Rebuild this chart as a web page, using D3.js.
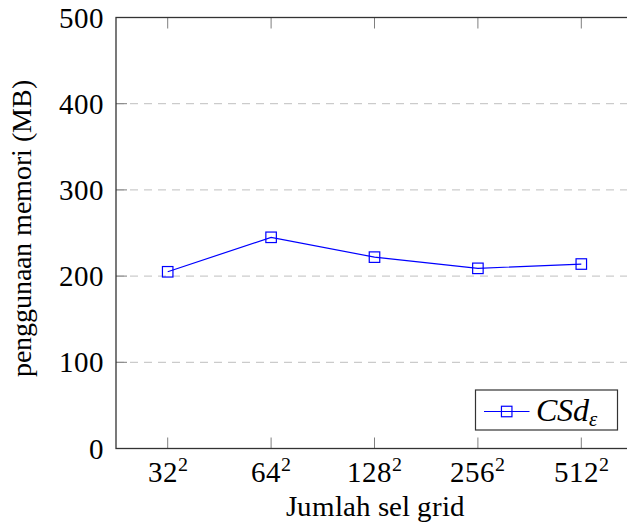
<!DOCTYPE html>
<html>
<head>
<meta charset="utf-8">
<script src="https://cdn.jsdelivr.net/npm/d3@7"></script>
<style>
  @font-face { font-family: "ChartSerif"; font-style: normal; src: local("Liberation Serif"), local("LiberationSerif"), local("Liberation Serif Regular"), local("LiberationSerif-Regular"); }
  @font-face { font-family: "ChartSerif"; font-style: italic; src: local("Liberation Serif Italic"), local("LiberationSerif-Italic"); }
</style>
</head>
<body style="margin:0;background:#fff">
<svg id="chart" width="627" height="526" style="display:block"></svg>
<script>
// Grid sizes (base of the squared label) and memory use in MB
const gridBases = ["32", "64", "128", "256", "512"];
const memoryMB = [205, 245, 222, 209, 214];
const yTicks = [0, 100, 200, 300, 400, 500];
const seriesName = { main: "CSd", sub: "ε" };

const serif = "ChartSerif, \"Liberation Serif\", \"Times New Roman\", serif";
const fs = 29;

const svg = d3.select("#chart");
const plot = { left: 116, right: 633, top: 17.5, bottom: 448.5 };

const x = d3.scalePoint()
  .domain(gridBases)
  .range([plot.left, plot.right])
  .padding(0.5);

const y = d3.scaleLinear()
  .domain([0, 500])
  .range([plot.bottom, plot.top]);

const tickLen = 11;

// Dashed horizontal grid
svg.append("g")
  .selectAll("line")
  .data(yTicks.filter(d => d > 0 && d < 500))
  .join("line")
  .attr("x1", plot.left).attr("x2", plot.right)
  .attr("y1", d => y(d)).attr("y2", d => y(d))
  .attr("stroke", "#bfbfbf")
  .attr("stroke-width", 1)
  .attr("stroke-dasharray", "8,6");

// Inward tick marks on left, bottom and top
const ticks = svg.append("g").attr("stroke", "#7f7f7f").attr("stroke-width", 1);
ticks.selectAll(".yt").data(yTicks).join("line")
  .attr("x1", plot.left).attr("x2", plot.left + tickLen)
  .attr("y1", d => y(d)).attr("y2", d => y(d));
ticks.selectAll(".xb").data(gridBases).join("line")
  .attr("x1", d => x(d)).attr("x2", d => x(d))
  .attr("y1", plot.bottom).attr("y2", plot.bottom - tickLen);
ticks.selectAll(".xt").data(gridBases).join("line")
  .attr("x1", d => x(d)).attr("x2", d => x(d))
  .attr("y1", plot.top).attr("y2", plot.top + tickLen);

// Frame
svg.append("rect")
  .attr("x", plot.left).attr("y", plot.top)
  .attr("width", plot.right - plot.left).attr("height", plot.bottom - plot.top)
  .attr("fill", "none").attr("stroke", "#333").attr("stroke-width", 1.3);

// Y tick labels
svg.selectAll(".ylab").data(yTicks).join("text")
  .attr("x", plot.left - 12)
  .attr("y", d => y(d))
  .attr("dy", "0.35em")
  .attr("text-anchor", "end")
  .attr("font-family", serif)
  .attr("font-size", fs)
  .style("font-family", serif)
  .text(d => d);

// X tick labels with superscript 2
const xl = svg.selectAll(".xlab").data(gridBases).join("text")
  .attr("x", d => x(d))
  .attr("y", 482)
  .attr("text-anchor", "middle")
  .attr("font-family", serif)
  .attr("font-size", fs)
  .style("font-family", serif);
xl.append("tspan").text(d => d);
xl.append("tspan").attr("font-size", 20).attr("dy", -11).text("2");

// Axis titles
svg.append("text")
  .attr("x", 375)
  .attr("y", 516)
  .attr("text-anchor", "middle")
  .attr("font-family", serif)
  .attr("font-size", fs)
  .style("font-family", serif)
  .text("Jumlah sel grid");

svg.append("text")
  .attr("transform", "translate(31,228) rotate(-90)")
  .attr("text-anchor", "middle")
  .attr("font-family", serif)
  .attr("font-size", 28)
  .style("font-family", serif)
  .text("penggunaan memori (MB)");

// Data line and square markers
const pts = gridBases.map((g, i) => [x(g), y(memoryMB[i])]);
svg.append("path")
  .attr("d", d3.line()(pts))
  .attr("fill", "none")
  .attr("stroke", "#0000ff")
  .attr("stroke-width", 1.2);

const ms = 10.5;
svg.append("g").selectAll("rect").data(pts).join("rect")
  .attr("x", d => d[0] - ms / 2).attr("y", d => d[1] - ms / 2)
  .attr("width", ms).attr("height", ms)
  .attr("fill", "none")
  .attr("stroke", "#0000ff")
  .attr("stroke-width", 1.2);

// Legend
const lg = svg.append("g");
lg.append("rect")
  .attr("x", 475.5).attr("y", 390)
  .attr("width", 142).attr("height", 40)
  .attr("fill", "#fff").attr("stroke", "#333").attr("stroke-width", 1.2);
lg.append("line")
  .attr("x1", 484).attr("x2", 529.5).attr("y1", 411.5).attr("y2", 411.5)
  .attr("stroke", "#0000ff").attr("stroke-width", 1.2);
lg.append("rect")
  .attr("x", 506.7 - ms / 2).attr("y", 411.5 - ms / 2)
  .attr("width", ms).attr("height", ms)
  .attr("fill", "none").attr("stroke", "#0000ff").attr("stroke-width", 1.2);
const lt = lg.append("text")
  .attr("x", 536).attr("y", 421)
  .attr("font-family", serif)
  .attr("font-size", 32)
  .attr("font-style", "italic")
  .style("font-family", serif);
lt.append("tspan").text(seriesName.main);
lt.append("tspan").attr("font-size", 21).attr("dy", 5).text(seriesName.sub);
</script>
</body>
</html>
